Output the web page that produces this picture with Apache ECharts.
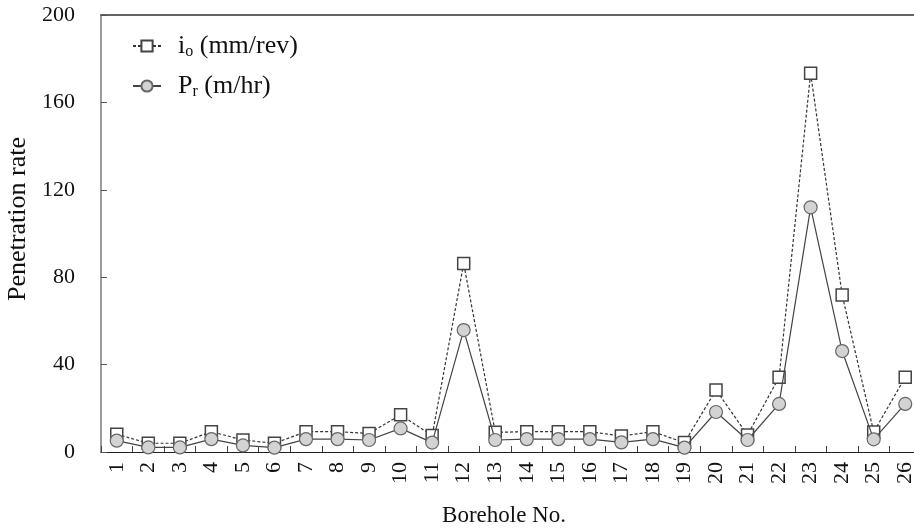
<!DOCTYPE html>
<html>
<head>
<meta charset="utf-8">
<script src="https://cdn.jsdelivr.net/npm/echarts@6/dist/echarts.min.js"></script>
<style>
  html, body { margin: 0; padding: 0; background: #fff; }
  #chart { width: 914px; height: 532px; }
</style>
</head>
<body>
<div id="chart"></div>
<script>
// Borehole numbers along the x axis
const boreholes = ['1','2','3','4','5','6','7','8','9','10','11','12','13','14','15','16','17','18','19','20','21','22','23','24','25','26'];
// Penetration per revolution, i_o (mm/rev)
const ioValues = [8.1, 4.0, 4.0, 9.3, 5.5, 4.0, 9.3, 9.3, 8.5, 17.0, 7.5, 86.3, 9.0, 9.3, 9.3, 9.3, 7.3, 9.3, 4.3, 28.4, 7.8, 34.2, 173.3, 71.9, 9.2, 34.2];
// Penetration rate, P_r (m/hr)
const prValues = [5.2, 2.1, 2.1, 5.9, 3.0, 2.0, 5.9, 5.9, 5.5, 10.8, 4.3, 55.8, 5.5, 5.9, 5.9, 5.9, 4.4, 5.9, 2.0, 18.3, 5.5, 22.0, 112.0, 46.2, 5.8, 22.0];
// Y axis ticks
const yTicks = [0, 40, 80, 120, 160, 200];

const font = 'Liberation Serif, Times New Roman, serif';
const chart = echarts.init(document.getElementById('chart'));

chart.setOption({
  animation: false,
  backgroundColor: '#fff',
  textStyle: { fontFamily: font },
  grid: { left: 101, top: 15, right: -7, bottom: 80, containLabel: false, outerBoundsMode: 'none' },
  legend: {
    orient: 'vertical',
    left: 127,
    top: 28,
    itemWidth: 28,
    itemHeight: 14,
    itemGap: 13,
    textStyle: {
      fontFamily: font,
      fontSize: 26,
      color: '#111',
      rich: {
        m0: { fontFamily: font, fontSize: 26, color: '#111', padding: [0, 0, 0, 12] },
        m: { fontFamily: font, fontSize: 26, color: '#111' },
        s: { fontFamily: font, fontSize: 16, color: '#111', verticalAlign: 'bottom', padding: [12, 0, 0, 0] }
      }
    },
    formatter: function (name) {
      if (name === 'io') return '{m0|i}{s|o}{m| (mm/rev)}';
      return '{m0|P}{s|r}{m| (m/hr)}';
    },
    data: ['io', 'Pr']
  },
  xAxis: [{
    type: 'category',
    data: boreholes,
    boundaryGap: true,
    name: 'Borehole No.',
    nameLocation: 'middle',
    nameGap: 52,
    nameTextStyle: { fontFamily: font, fontSize: 23, color: '#111', padding: [0, 14, 0, 0] },
    axisLine: { lineStyle: { color: '#222', width: 1.2 } },
    axisTick: { show: true, inside: true, length: 6, lineStyle: { color: '#444' } },
    axisLabel: { rotate: 90, margin: 10, fontFamily: font, fontSize: 22, color: '#111', interval: 0 },
    splitLine: { show: false }
  }, {
    type: 'category',
    data: boreholes,
    position: 'top',
    axisLine: { show: true, lineStyle: { color: '#333', width: 1.5 } },
    axisTick: { show: false },
    axisLabel: { show: false },
    splitLine: { show: false }
  }],
  yAxis: {
    type: 'value',
    min: yTicks[0],
    max: yTicks[yTicks.length - 1],
    interval: 40,
    name: 'Penetration rate',
    nameLocation: 'middle',
    nameGap: 67,
    nameRotate: 90,
    nameTextStyle: { fontFamily: font, fontSize: 26, color: '#111', padding: [0, 0, 0, 29] },
    axisLine: { show: true, lineStyle: { color: '#7a7a7a', width: 1.5 } },
    axisTick: { show: true, inside: true, length: 6, lineStyle: { color: '#555' } },
    axisLabel: { margin: 26, fontFamily: font, fontSize: 22, color: '#111' },
    splitLine: { show: false }
  },
  series: [{
    name: 'io',
    type: 'line',
    data: ioValues,
    symbol: 'rect',
    symbolSize: 12,
    lineStyle: { color: '#333', width: 1.2, type: [3, 2] },
    itemStyle: { color: '#fff', borderColor: '#444', borderWidth: 1.5 },
    z: 2
  }, {
    name: 'Pr',
    type: 'line',
    data: prValues,
    symbol: 'circle',
    symbolSize: 13,
    lineStyle: { color: '#444', width: 1.2 },
    itemStyle: { color: '#d3d3d3', borderColor: '#666', borderWidth: 1.2 },
    z: 3
  }]
});
</script>
</body>
</html>
